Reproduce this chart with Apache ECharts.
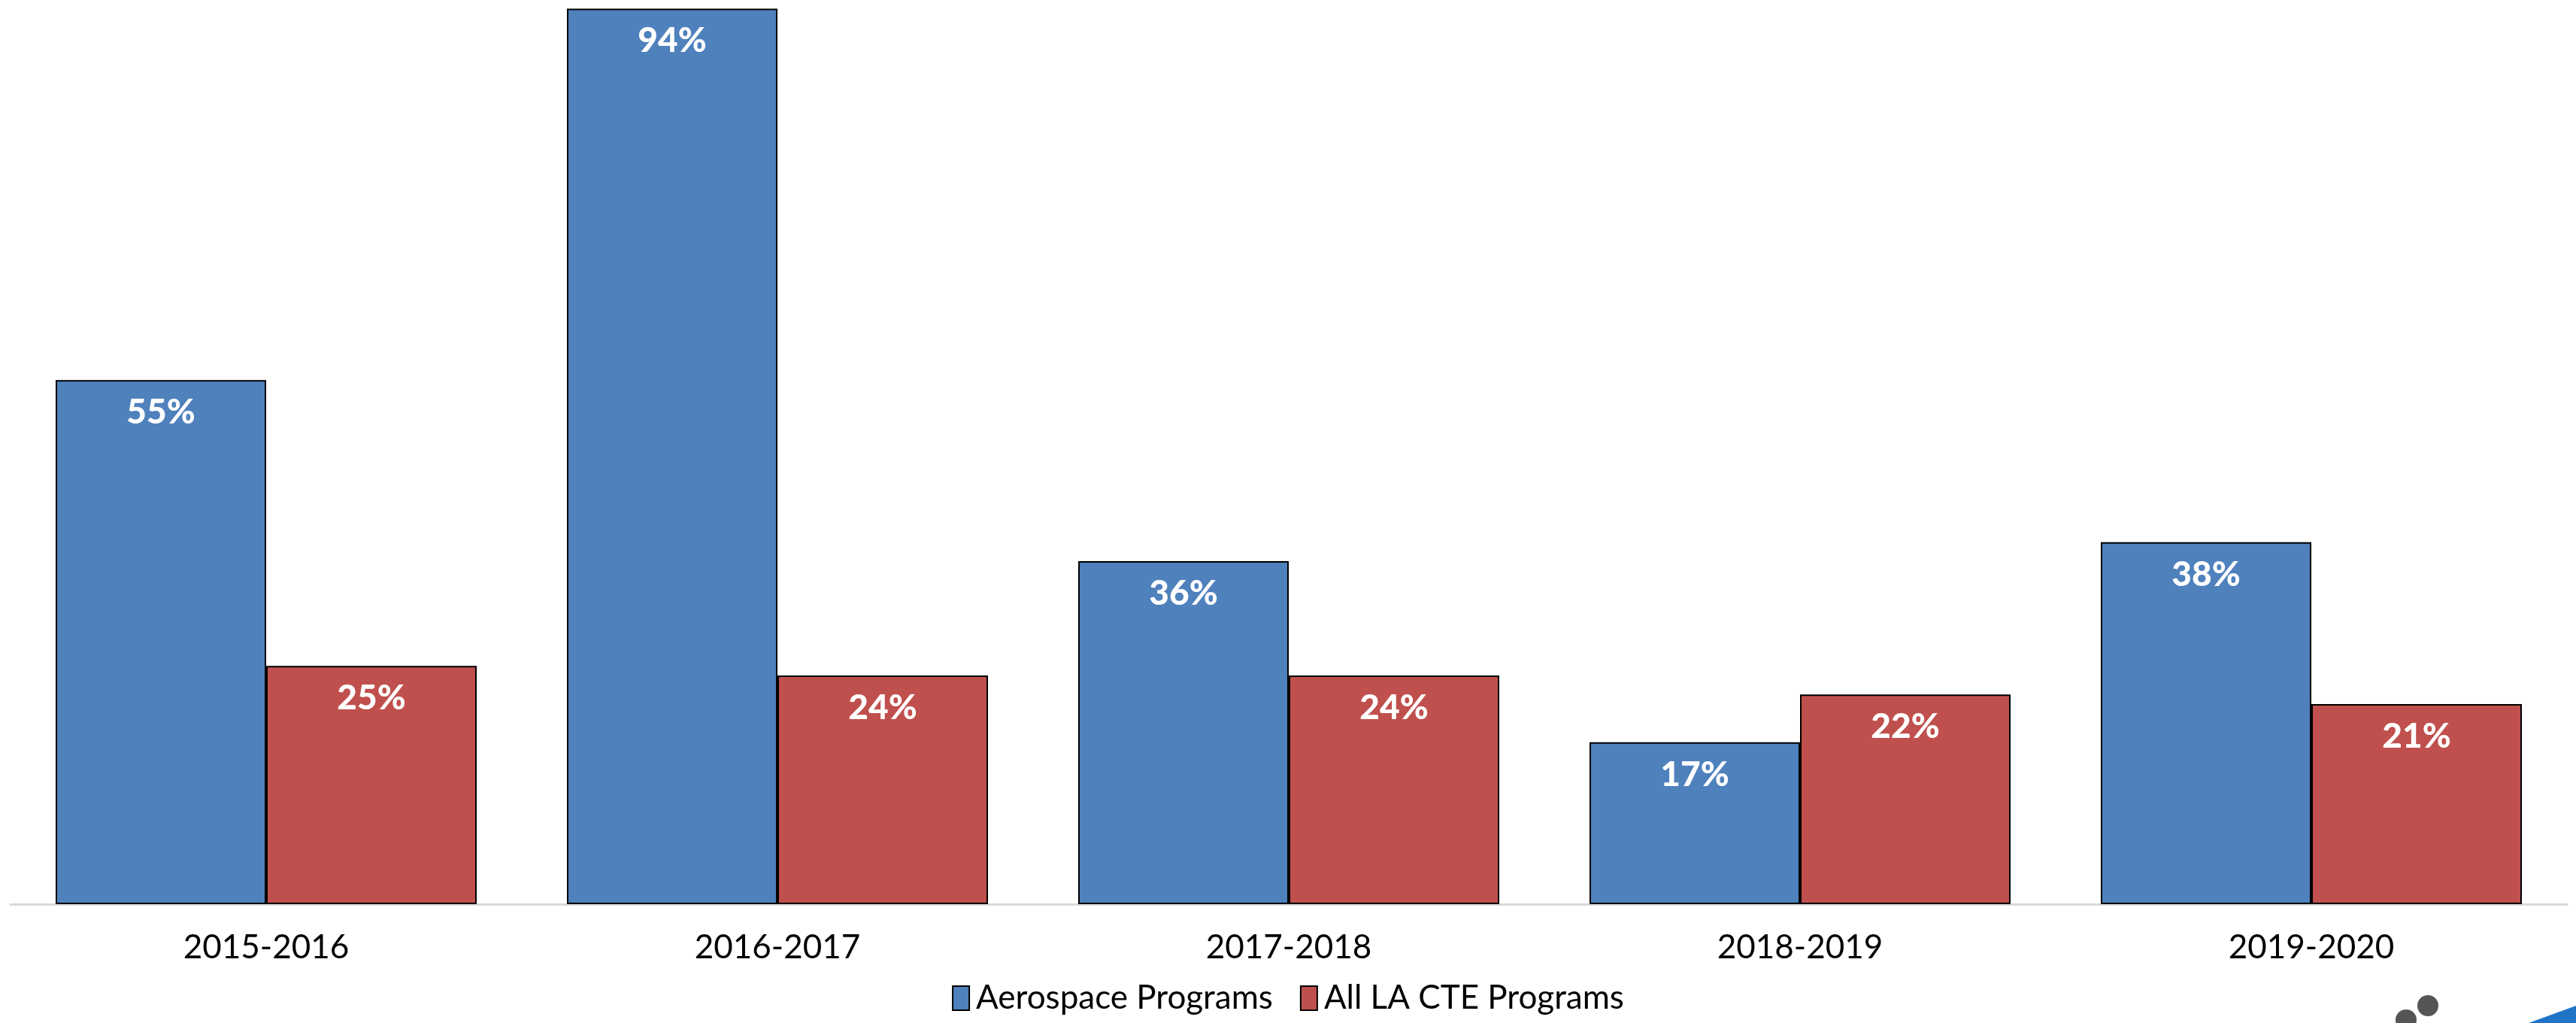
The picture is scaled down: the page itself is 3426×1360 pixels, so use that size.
<!DOCTYPE html>
<html>
<head>
<meta charset="utf-8">
<script src="https://cdn.jsdelivr.net/npm/echarts@6/dist/echarts.min.js"></script>
<style>
  html, body { margin: 0; padding: 0; background: #fff; }
  #chart { width: 3426px; height: 1360px; }
</style>
</head>
<body>
<div id="chart"></div>
<script>
const years = ["2015-2016", "2016-2017", "2017-2018", "2018-2019", "2019-2020"];
const aerospace = [55, 94, 36, 17, 38];
const allCte = [25, 24, 24, 22, 21];
const seriesNames = ["Aerospace Programs", "All LA CTE Programs"];

const chart = echarts.init(document.getElementById("chart"));

const labelStyle = {
  show: true,
  position: "insideTop",
  distance: 20,
  color: "#fff",
  fontFamily: "Lato",
  fontWeight: 900,
  fontSize: 46,
  formatter: (p) => p.value + "%",
};

const option = {
  animation: false,
  grid: {
    left: 14,
    right: 12,
    top: 0,
    bottom: 158,
  },
  legend: {
    bottom: 6,
    left: "center",
    itemWidth: 22,
    itemHeight: 32,
    itemGap: 36,
    icon: "rect",
    textStyle: {
      fontFamily: "Lato",
      fontSize: 44,
      color: "#000",
      padding: [0, 0, 0, 4],
    },
    data: seriesNames,
  },
  xAxis: {
    type: "category",
    data: years,
    axisLine: { lineStyle: { color: "#d9d9d9", width: 3 } },
    axisTick: { show: false },
    axisLabel: {
      margin: 36,
      fontFamily: "Lato",
      fontSize: 44,
      color: "#000",
    },
  },
  yAxis: {
    type: "value",
    min: 0,
    max: 94.9,
    show: false,
    splitLine: { show: false },
  },
  series: [
    {
      name: seriesNames[0],
      type: "bar",
      data: aerospace,
      barWidth: 280,
      barGap: "0%",
      itemStyle: { color: "#4F81BD", borderColor: "#000", borderWidth: 2 },
      label: labelStyle,
    },
    {
      name: seriesNames[1],
      type: "bar",
      data: allCte,
      barWidth: 280,
      itemStyle: { color: "#C0504D", borderColor: "#000", borderWidth: 2 },
      label: labelStyle,
    },
  ],
  graphic: [
    { type: "circle", shape: { cx: 3229, cy: 1337, r: 14 }, style: { fill: "#555" } },
    { type: "circle", shape: { cx: 3200, cy: 1356, r: 14 }, style: { fill: "#555" } },
    {
      type: "polygon",
      shape: { points: [[3363, 1360], [3426, 1337], [3426, 1360]] },
      style: { fill: "#1f74c6" },
    },
  ],
};

chart.setOption(option);
</script>
</body>
</html>
